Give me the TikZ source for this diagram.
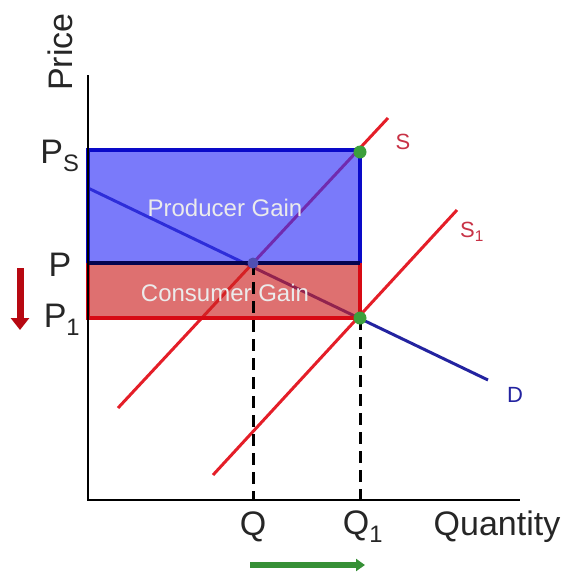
\documentclass[tikz,border=0pt]{standalone}
\usepackage{fontspec}
\setmainfont{Liberation Sans}
\usetikzlibrary{arrows.meta}
\definecolor{pblue}{RGB}{51,51,248}
\definecolor{bedge}{RGB}{10,10,200}
\definecolor{pred}{RGB}{205,35,35}
\definecolor{redge}{RGB}{215,10,20}
\definecolor{sred}{RGB}{228,30,40}
\definecolor{dblue}{RGB}{35,35,160}
\definecolor{gdot}{RGB}{60,160,60}
\definecolor{lblred}{RGB}{200,50,70}
\begin{document}
\begin{tikzpicture}[x=1pt,y=-1pt,
  axislbl/.style={font=\fontsize{34}{38}\selectfont, text=black!85, inner sep=0pt},
  curvelbl/.style={font=\fontsize{22}{26}\selectfont, inner sep=0pt},
  gainlbl/.style={font=\fontsize{24}{28}\selectfont, text=white!92!black, inner sep=0pt},
  dotstyle/.style={circle, fill=gdot, inner sep=0pt, minimum size=13pt}]
\useasboundingbox (0,0) rectangle (570,574);
% curves
\coordinate (s0) at (118,408); \coordinate (s1) at (388,118);
\coordinate (t0) at (213,475); \coordinate (t1) at (457,210);
\coordinate (d0) at (88,188); \coordinate (d1) at (488,380);
\draw[sred, line width=3pt] (s0) -- (s1);
\draw[sred, line width=3pt] (t0) -- (t1);
\draw[dblue, line width=3pt] (d0) -- (d1);
% areas
\fill[pblue, fill opacity=0.65] (88,150) rectangle (360,263);
\fill[pred, fill opacity=0.65] (88,263) rectangle (360,318);
\draw[bedge, line width=4pt] (88,263) -- (88,150) -- (360,150) -- (360,263);
\draw[redge, line width=4pt] (88,263) -- (88,318) -- (360,318) -- (360,263);
\draw[black!60!bedge, line width=4pt] (88,263) -- (360,263);
\node[gainlbl] (pg) at (225,208) {Producer Gain};
\node[gainlbl] (cg) at (225,293) {Consumer Gain};
% axes
\coordinate (o) at (88,500);
\coordinate (ytop) at (88,75);
\coordinate (xend) at (520,500);
\draw[black, line width=2.8pt] (ytop) -- (o) -- (xend);
% equilibrium points
\coordinate (e0) at (253,263);
\coordinate (e1) at (360,318);
\coordinate (qa) at (253,500);
\coordinate (qb) at (360,500);
\draw[black, line width=3pt, dash pattern=on 12pt off 7pt] (e0) -- (qa);
\draw[black, line width=3pt, dash pattern=on 12pt off 7pt] (e1) -- (qb);
\node[dotstyle] (g1) at (360,152) {};
\node[dotstyle] (g2) at (e1) {};
\node[circle, fill=dblue!80, inner sep=0pt, minimum size=11pt] (b1) at (e0) {};
% labels
\node[axislbl, rotate=90] (price) at (60,52) {Price};
\node[axislbl] (ps) at (60,156) {P\textsubscript{S}};
\node[axislbl] (p) at (60,265) {P};
\node[axislbl] (p1) at (62,320) {P\textsubscript{1}};
\node[axislbl] (q) at (253,527) {Q};
\node[axislbl] (q1) at (363,527) {Q\textsubscript{1}};
\node[axislbl] (qty) at (497,527) {Quantity};
\node[curvelbl, text=lblred] (sl) at (403,142) {S};
\node[curvelbl, text=lblred] (s1l) at (472,232) {S\textsubscript{1}};
\node[curvelbl, text=dblue] (dl) at (515,395) {D};
% arrows
\coordinate (ra0) at (20,268); \coordinate (ra1) at (20,330);
\draw[redge!85!black, line width=7pt, -{Triangle[length=12pt,width=18pt]}] (ra0) -- (ra1);
\coordinate (ga0) at (250,565); \coordinate (ga1) at (365,565);
\draw[gdot!90!black, line width=6pt, -{Triangle[length=9pt,width=12pt]}] (ga0) -- (ga1);
\end{tikzpicture}
\end{document}
